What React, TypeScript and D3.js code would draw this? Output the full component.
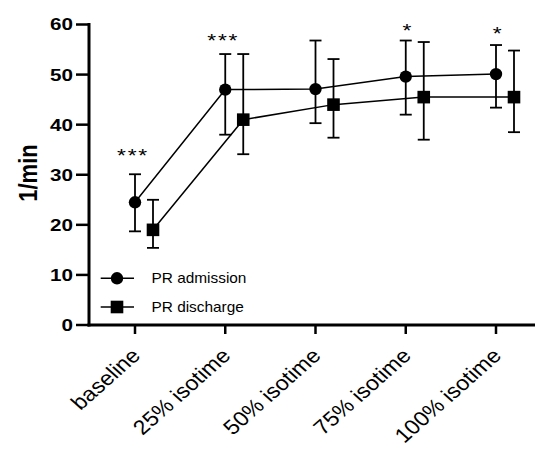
import React from "react";
import * as d3 from "d3";

const categories = ["baseline", "25% isotime", "50% isotime", "75% isotime", "100% isotime"];
const admissionMean = [24.5, 47.0, 47.1, 49.6, 50.1];
const admissionLow = [18.7, 38.0, 40.3, 42.0, 43.4];
const admissionHigh = [30.1, 54.1, 56.8, 56.8, 55.9];
const dischargeMean = [19.0, 41.0, 44.0, 45.5, 45.5];
const dischargeLow = [15.4, 34.1, 37.4, 37.0, 38.5];
const dischargeHigh = [25.0, 54.1, 53.1, 56.5, 54.8];
const significance = ["***", "***", "", "*", "*"];
const significanceLevel = [34.6, 57.5, 0, 59.5, 59.0];
const yTicks = [0, 10, 20, 30, 40, 50, 60];
const seriesNames = ["PR admission", "PR discharge"];

export default function App() {
  const W = 535, H = 452;
  const x = d3.scalePoint<string>().domain(categories).range([135, 496]);
  const y = d3.scaleLinear().domain([0, 60]).range([325, 24.5]);
  const off = 18;
  const font = "Arial, 'Liberation Sans', sans-serif";
  const cap = 6;

  const lineA = d3.line<number>().x((_, i) => x(categories[i])!).y((d) => y(d));
  const lineD = d3.line<number>().x((_, i) => x(categories[i])! + off).y((d) => y(d));

  return (
    <svg width={W} height={H} style={{ position: "absolute", left: 0, top: 0, background: "#fff" }} fontFamily={font}>
      {/* axes */}
      <line x1={89} x2={89} y1={23} y2={326.5} stroke="#000" strokeWidth={3} />
      <line x1={87.5} x2={535} y1={325} y2={325} stroke="#000" strokeWidth={3} />
      {yTicks.map((t) => (
        <g key={t}>
          <line x1={76} x2={89} y1={y(t)} y2={y(t)} stroke="#000" strokeWidth={2.5} />
          <text transform={`translate(73,${y(t)}) scale(1.25,1)`} dy="0.36em" textAnchor="end" fontSize={16.5} fontWeight="bold">{t}</text>
        </g>
      ))}
      {categories.map((c) => (
        <g key={c}>
          <line x1={x(c)} x2={x(c)} y1={325} y2={334} stroke="#000" strokeWidth={2.5} />
          <text transform={`translate(${x(c)! + 6.5},${357}) scale(1.13,1) rotate(-45)`} textAnchor="end" fontSize={20.5}>{c}</text>
        </g>
      ))}
      <text transform="translate(37,173) scale(1.15,1) rotate(-90)" textAnchor="middle" fontSize={22} fontWeight="bold">1/min</text>

      {/* lines */}
      <path d={lineA(admissionMean)!} fill="none" stroke="#000" strokeWidth={1.5} />
      <path d={lineD(dischargeMean)!} fill="none" stroke="#000" strokeWidth={1.5} />

      {/* error bars */}
      {categories.map((c, i) => {
        const xa = x(c)!;
        const xd = xa + off;
        return (
          <g key={c} stroke="#000" strokeWidth={1.8}>
            <line x1={xa} x2={xa} y1={y(admissionLow[i])} y2={y(admissionHigh[i])} />
            <line x1={xa - cap} x2={xa + cap} y1={y(admissionLow[i])} y2={y(admissionLow[i])} />
            <line x1={xa - cap} x2={xa + cap} y1={y(admissionHigh[i])} y2={y(admissionHigh[i])} />
            <line x1={xd} x2={xd} y1={y(dischargeLow[i])} y2={y(dischargeHigh[i])} />
            <line x1={xd - cap} x2={xd + cap} y1={y(dischargeLow[i])} y2={y(dischargeLow[i])} />
            <line x1={xd - cap} x2={xd + cap} y1={y(dischargeHigh[i])} y2={y(dischargeHigh[i])} />
          </g>
        );
      })}

      {/* markers */}
      {categories.map((c, i) => (
        <g key={c}>
          <circle cx={x(c)} cy={y(admissionMean[i])} r={6.2} fill="#000" />
          <rect x={x(c)! + off - 6.3} y={y(dischargeMean[i]) - 6.3} width={12.6} height={12.6} fill="#000" />
        </g>
      ))}

      {/* significance */}
      {categories.map((c, i) => (
        significance[i] ? (
          <text key={c} transform={`translate(${x(c)! + (significance[i].length > 1 ? -2 : 2)},${y(significanceLevel[i]) + 10}) scale(1.2,1)`}
            textAnchor="middle" fontSize={19} letterSpacing={1.5}>{significance[i]}</text>
        ) : null
      ))}

      {/* legend */}
      {seriesNames.map((s, i) => {
        const ly = 278.3 + i * 28.7;
        return (
          <g key={s}>
            <line x1={100.7} x2={134} y1={ly} y2={ly} stroke="#000" strokeWidth={1.5} />
            {i === 0 ? (
              <circle cx={117} cy={ly} r={6.2} fill="#000" />
            ) : (
              <rect x={117 - 6.3} y={ly - 6.3} width={12.6} height={12.6} fill="#000" />
            )}
            <text transform={`translate(151.5,${ly}) scale(1.1,1)`} dy="0.36em" fontSize={14}>{s}</text>
          </g>
        );
      })}
    </svg>
  );
}
